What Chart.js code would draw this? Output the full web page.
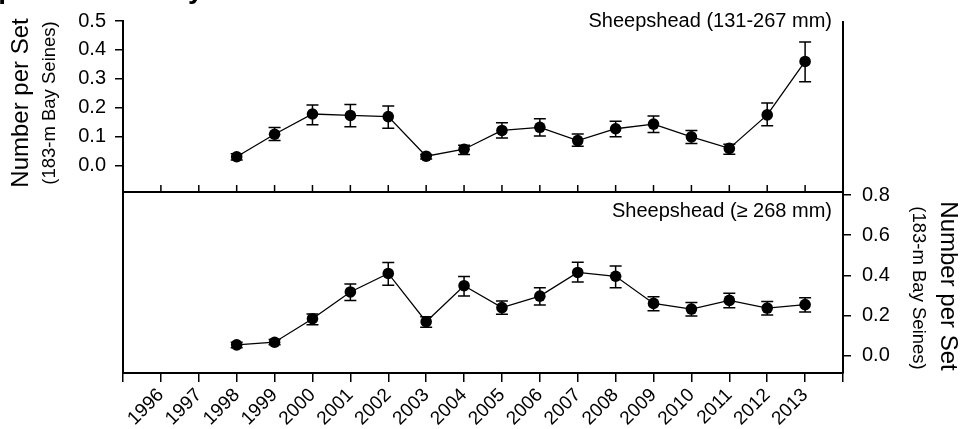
<!DOCTYPE html>
<html>
<head>
<meta charset="utf-8">
<script src="https://cdn.jsdelivr.net/npm/chart.js@4"></script>
<style>
  body { margin: 0; background: #fff; }
  #wrap { position: relative; width: 962px; height: 429px; overflow: hidden; background: #fff; }
  #wrap canvas { position: absolute; left: 0; top: 0; }
</style>
</head>
<body>
<div id="wrap">
  <canvas id="topChart" width="962" height="429"></canvas>
  <canvas id="bottomChart" width="962" height="429"></canvas>
</div>
<script>
// survey years with data
const years = [1998, 1999, 2000, 2001, 2002, 2003, 2004, 2005, 2006, 2007, 2008, 2009, 2010, 2011, 2012, 2013];

// Sheepshead 131-267 mm
const smallMean = [0.030, 0.108, 0.178, 0.173, 0.169, 0.032, 0.056, 0.121, 0.132, 0.086, 0.127, 0.143, 0.099, 0.059, 0.175, 0.360];
const smallLow  = [0.019, 0.086, 0.141, 0.134, 0.129, 0.022, 0.038, 0.095, 0.102, 0.066, 0.099, 0.114, 0.076, 0.039, 0.137, 0.290];
const smallHigh = [0.040, 0.131, 0.209, 0.211, 0.206, 0.038, 0.070, 0.148, 0.162, 0.109, 0.153, 0.171, 0.121, 0.073, 0.216, 0.427];

// Sheepshead >= 268 mm
const largeMean = [0.055, 0.068, 0.185, 0.318, 0.410, 0.170, 0.349, 0.240, 0.297, 0.415, 0.396, 0.261, 0.233, 0.276, 0.238, 0.255];
const largeLow  = [0.040, 0.055, 0.155, 0.276, 0.351, 0.142, 0.298, 0.207, 0.253, 0.367, 0.339, 0.225, 0.198, 0.240, 0.203, 0.218];
const largeHigh = [0.068, 0.081, 0.208, 0.357, 0.465, 0.195, 0.395, 0.273, 0.339, 0.466, 0.447, 0.294, 0.266, 0.311, 0.270, 0.289];

// tick labels
const xTickYears = [1996, 1997, 1998, 1999, 2000, 2001, 2002, 2003, 2004, 2005, 2006, 2007, 2008, 2009, 2010, 2011, 2012, 2013];
const topTicks = [0.0, 0.1, 0.2, 0.3, 0.4, 0.5];
const bottomTicks = [0.0, 0.2, 0.4, 0.6, 0.8];

const FONT = "'Liberation Sans', Arial, sans-serif";
Chart.defaults.font.family = FONT;
Chart.defaults.color = '#000';

function toPoints(vals) {
  return years.map((yr, i) => ({ x: yr, y: vals[i] }));
}

function lineDataset(vals) {
  return {
    data: toPoints(vals),
    borderColor: '#000',
    borderWidth: 1.3,
    pointRadius: 5.8,
    pointBackgroundColor: '#000',
    pointBorderWidth: 0,
    tension: 0
  };
}

// error bars drawn under the markers
const errorBars = {
  id: 'errorBars',
  beforeDatasetsDraw(chart, args, opts) {
    const ctx = chart.ctx;
    const xs = chart.scales.x, ys = chart.scales.y;
    ctx.save();
    ctx.strokeStyle = '#000';
    ctx.lineWidth = 1.5;
    opts.low.forEach((lo, i) => {
      const px = xs.getPixelForValue(years[i]);
      const y1 = ys.getPixelForValue(lo);
      const y2 = ys.getPixelForValue(opts.high[i]);
      ctx.beginPath();
      ctx.moveTo(px, y1); ctx.lineTo(px, y2);
      ctx.moveTo(px - 6, y1); ctx.lineTo(px + 6, y1);
      ctx.moveTo(px - 6, y2); ctx.lineTo(px + 6, y2);
      ctx.stroke();
    });
    ctx.restore();
  }
};

function rotatedText(ctx, text, x, y, angle, font) {
  ctx.save();
  ctx.translate(x, y);
  ctx.rotate(angle);
  ctx.font = font;
  ctx.textAlign = 'center';
  ctx.textBaseline = 'middle';
  ctx.fillText(text, 0, 0);
  ctx.restore();
}

const topDecor = {
  id: 'topDecor',
  afterDraw(chart) {
    const ctx = chart.ctx;
    const area = chart.chartArea;
    const xs = chart.scales.x;
    ctx.save();
    ctx.strokeStyle = '#000';
    ctx.fillStyle = '#000';
    // right frame line
    ctx.lineWidth = 2;
    ctx.beginPath();
    ctx.moveTo(area.right, area.top);
    ctx.lineTo(area.right, area.bottom);
    ctx.stroke();
    // inward ticks on the shared year axis
    ctx.lineWidth = 1.5;
    ctx.beginPath();
    xTickYears.forEach(v => {
      const px = xs.getPixelForValue(v);
      ctx.moveTo(px, area.bottom);
      ctx.lineTo(px, area.bottom - 7);
    });
    ctx.stroke();
    // panel label
    ctx.font = '20px ' + FONT;
    ctx.textAlign = 'right';
    ctx.textBaseline = 'alphabetic';
    ctx.fillText('Sheepshead (131-267 mm)', 832, 27);
    // axis titles
    rotatedText(ctx, 'Number per Set', 21, 103, -Math.PI / 2, '24px ' + FONT);
    rotatedText(ctx, '(183-m Bay Seines)', 50, 103, -Math.PI / 2, '18.5px ' + FONT);
    // figure title, clipped by the top edge
    ctx.font = 'bold 28px ' + FONT;
    ctx.textAlign = 'left';
    ctx.textBaseline = 'alphabetic';
    ctx.fillText('Corpus Christi Bay', -50, -2);
    ctx.restore();
  }
};

const bottomDecor = {
  id: 'bottomDecor',
  afterDraw(chart) {
    const ctx = chart.ctx;
    const area = chart.chartArea;
    ctx.save();
    ctx.strokeStyle = '#000';
    ctx.fillStyle = '#000';
    ctx.lineWidth = 2;
    ctx.beginPath();
    ctx.moveTo(area.left, area.top);
    ctx.lineTo(area.left, area.bottom);
    ctx.stroke();
    ctx.font = '20px ' + FONT;
    ctx.textAlign = 'right';
    ctx.textBaseline = 'alphabetic';
    ctx.fillText('Sheepshead (\u2265 268 mm)', 832, 217);
    rotatedText(ctx, 'Number per Set', 948, 286, Math.PI / 2, '24px ' + FONT);
    rotatedText(ctx, '(183-m Bay Seines)', 918, 288, Math.PI / 2, '18.5px ' + FONT);
    ctx.restore();
  }
};

new Chart(document.getElementById('topChart'), {
  type: 'line',
  data: { datasets: [lineDataset(smallMean)] },
  plugins: [errorBars, topDecor],
  options: {
    responsive: false,
    animation: false,
    devicePixelRatio: 1,
    layout: { padding: { left: 0, top: 12, right: 119, bottom: 237 } },
    plugins: {
      legend: { display: false },
      tooltip: { enabled: false },
      errorBars: { low: smallLow, high: smallHigh }
    },
    scales: {
      x: {
        type: 'linear',
        min: 1995,
        max: 2014,
        afterBuildTicks: s => { s.ticks = xTickYears.map(v => ({ value: v })); },
        afterFit: s => { s.height = 0; },
        ticks: { display: false },
        grid: { drawOnChartArea: false, drawTicks: false },
        border: { display: true, color: '#000', width: 2 }
      },
      y: {
        position: 'left',
        min: -0.092,
        max: 0.5,
        afterBuildTicks: s => { s.ticks = topTicks.map(v => ({ value: v })); },
        afterFit: s => { s.width = 123; },
        ticks: {
          padding: 9,
          font: { size: 20 },
          callback: v => v.toFixed(1)
        },
        grid: { drawOnChartArea: false, tickLength: 8, color: '#000', lineWidth: 1.5 },
        border: { display: true, color: '#000', width: 2 }
      }
    }
  }
});

new Chart(document.getElementById('bottomChart'), {
  type: 'line',
  data: { datasets: [lineDataset(largeMean)] },
  plugins: [errorBars, bottomDecor],
  options: {
    responsive: false,
    animation: false,
    devicePixelRatio: 1,
    layout: { padding: { left: 123, top: 193, right: 0, bottom: 0 } },
    plugins: {
      legend: { display: false },
      tooltip: { enabled: false },
      errorBars: { low: largeLow, high: largeHigh }
    },
    scales: {
      x: {
        type: 'linear',
        min: 1995,
        max: 2014,
        afterBuildTicks: s => {
          s.ticks = [s.min, ...xTickYears, s.max].map(v => ({ value: v }));
        },
        afterFit: s => { s.height = 56; },
        ticks: {
          autoSkip: false,
          minRotation: 45,
          maxRotation: 45,
          padding: 2,
          font: { size: 19 },
          callback: v => (xTickYears.includes(v) ? String(v) : '')
        },
        grid: { drawOnChartArea: false, tickLength: 9, color: '#000', lineWidth: 1.5 },
        border: { display: true, color: '#000', width: 2 }
      },
      y: {
        position: 'right',
        min: -0.085,
        max: 0.81,
        afterBuildTicks: s => { s.ticks = bottomTicks.map(v => ({ value: v })); },
        afterFit: s => { s.width = 119; },
        ticks: {
          padding: 11,
          font: { size: 20 },
          callback: v => v.toFixed(1)
        },
        grid: { drawOnChartArea: false, tickLength: 8, color: '#000', lineWidth: 1.5 },
        border: { display: true, color: '#000', width: 2 }
      }
    }
  }
});
</script>
</body>
</html>
